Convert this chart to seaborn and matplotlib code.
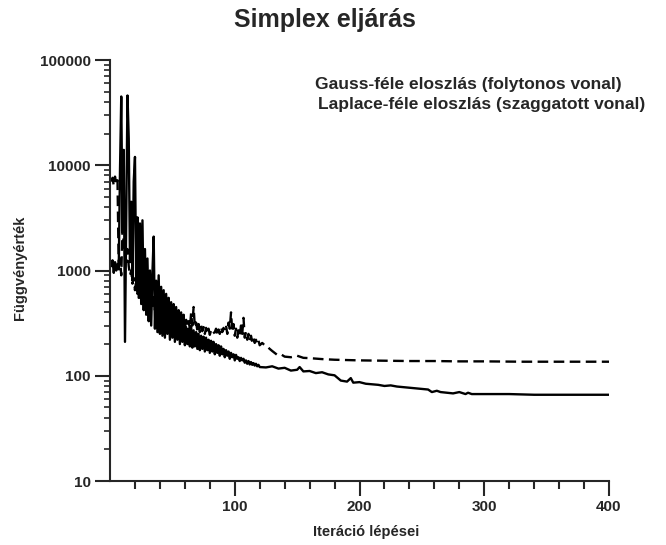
import numpy as np
import pandas as pd
import seaborn as sns
import matplotlib
matplotlib.use("Agg")
import matplotlib.pyplot as plt
from matplotlib import ticker

# ---------------- DATA ----------------
# Gauss-féle eloszlás (solid) -- iterations 1..120 step by step, then a sparser tail
gauss_iter_head = list(range(1, 121))
gauss_val_head = [
    1100, 1250, 950, 1200, 1000, 1150, 1050, 9000, 45000, 2500,
    14000, 210, 3000, 46000, 18000, 1200, 4500, 800, 7000, 12000,
    700, 3200, 550, 2800, 480, 3000, 420, 1600, 380, 1300,
    330, 1000, 300, 950, 2100, 280, 800, 260, 900, 250,
    700, 240, 650, 230, 600, 250, 550, 220, 500, 230,
    480, 210, 450, 220, 420, 200, 400, 210, 380, 195,
    290, 200, 280, 190, 300, 185, 270, 190, 260, 180,
    250, 175, 240, 180, 235, 170, 230, 175, 220, 165,
    215, 170, 210, 160, 200, 165, 195, 155, 190, 160,
    180, 150, 175, 155, 170, 145, 165, 150, 160, 140,
    158, 145, 150, 138, 148, 140, 145, 133, 140, 130,
    138, 128, 135, 127, 132, 125, 130, 123, 127, 121,
]
gauss_iter_tail = [125, 130, 135, 140, 145, 150, 152, 155, 160, 165, 170, 175, 180,
                   185, 190, 193, 195, 200, 205, 210, 215, 220, 225, 230, 235, 240,
                   245, 250, 255, 258, 262, 265, 270, 275, 280, 285, 287, 290, 300,
                   320, 340, 360, 380, 400]
gauss_val_tail = [120, 123, 117, 119, 112, 114, 121, 110, 111, 106, 108, 103, 101,
                  90, 88, 95, 86, 87, 84, 83, 82, 80, 81, 79, 78, 77,
                  76, 75, 74, 70, 72, 70, 69, 68, 70, 67, 69, 67, 67,
                  67, 66, 66, 66, 66]

# Laplace-féle eloszlás (dashed)
laplace_iter_head = list(range(1, 121))
laplace_val_head = [
    7000, 7600, 6400, 7800, 6600, 7200, 1000, 1300, 900, 2500,
    1800, 1500, 1200, 1600, 1100, 900, 1000, 750, 850, 650,
    800, 600, 900, 550, 750, 500, 700, 480, 650, 520,
    620, 450, 580, 430, 560, 420, 520, 400, 560, 380,
    500, 360, 480, 350, 450, 340, 430, 330, 420, 320,
    400, 310, 380, 300, 370, 290, 360, 300, 350, 280,
    340, 290, 330, 280, 395, 300, 450, 290, 320, 270,
    310, 260, 300, 265, 290, 250, 285, 255, 280, 245,
    270, 250, 255, 260, 280, 240, 275, 250, 290, 260,
    285, 270, 300, 250, 320, 280, 400, 260, 310, 240,
    280, 230, 270, 240, 300, 250, 355, 230, 260, 220,
    250, 215, 240, 210, 230, 205, 220, 200, 215, 195,
]
laplace_iter_tail = [122, 124, 126, 128, 130, 132, 134, 137, 140, 145, 150, 155, 160,
                     170, 180, 190, 200, 220, 240, 260, 280, 300, 330, 360, 400]
laplace_val_tail = [205, 195, 190, 180, 172, 165, 158, 160, 152, 150, 155, 148, 147,
                    144, 142, 141, 140, 139, 138, 138, 137, 137, 136, 136, 136]

x_major = [100, 200, 300, 400]
x_minor = [20, 40, 60, 80, 120, 140, 160, 180, 220, 240, 260, 280, 320, 340, 360, 380]
y_major = [10, 100, 1000, 10000, 100000]

gauss = pd.DataFrame({"iter": gauss_iter_head + gauss_iter_tail,
                      "value": gauss_val_head + gauss_val_tail})
laplace = pd.DataFrame({"iter": laplace_iter_head + laplace_iter_tail,
                        "value": laplace_val_head + laplace_val_tail})

# ---------------- PLOT ----------------
sns.set_style("ticks")
plt.rcParams["font.family"] = ["Liberation Sans", "DejaVu Sans"]
plt.rcParams["font.weight"] = "bold"

fig = plt.figure(figsize=(6.66, 5.45), dpi=100)
ax = fig.add_axes([0.1652, 0.1174, 0.7492, 0.7725])

sns.lineplot(data=laplace, x="iter", y="value", ax=ax, color="black", lw=1.7,
             estimator=None, sort=False)
ax.lines[-1].set_dashes((4.5, 2.3))
sns.lineplot(data=gauss, x="iter", y="value", ax=ax, color="black", lw=1.7,
             estimator=None, sort=False)

ax.set_yscale("log")
ax.set_ylim(10, 100000)
ax.set_xlim(0, 400)
ax.yaxis.set_major_locator(ticker.FixedLocator(y_major))
ax.yaxis.set_major_formatter(ticker.FuncFormatter(lambda v, p: f"{int(round(v))}"))
ax.yaxis.set_minor_locator(ticker.LogLocator(base=10, subs=np.arange(2, 10)))
ax.yaxis.set_minor_formatter(ticker.NullFormatter())
ax.xaxis.set_major_locator(ticker.FixedLocator(x_major))
ax.xaxis.set_minor_locator(ticker.FixedLocator(x_minor))

ax.set_xlabel("")
ax.set_ylabel("")
sns.despine(ax=ax)
for s in ["left", "bottom"]:
    ax.spines[s].set_linewidth(1.5)
ax.tick_params(axis="both", which="major", length=11, width=1.5, labelsize=11, pad=3)
ax.tick_params(axis="y", which="minor", length=4, width=1.2)
ax.tick_params(axis="x", which="minor", length=6, width=1.5)
for lab in ax.get_xticklabels() + ax.get_yticklabels():
    lab.set_fontweight("bold")

fig.text(325 / 666, 1 - 20 / 545, "Simplex eljárás", ha="center", va="center",
         fontsize=18, fontweight="bold")
fig.text(315 / 666, 1 - 85 / 545, "Gauss-féle eloszlás (folytonos vonal)",
         ha="left", va="center", fontsize=12.5, fontweight="bold")
fig.text(318 / 666, 1 - 104 / 545, "Laplace-féle eloszlás (szaggatott vonal)",
         ha="left", va="center", fontsize=12.5, fontweight="bold")
fig.text(20 / 666, 1 - 268 / 545, "Függvényérték", rotation=90, ha="center",
         va="center", fontsize=10.5, fontweight="bold")
fig.text(366 / 666, 1 - 532 / 545, "Iteráció lépései", ha="center", va="center",
         fontsize=10.5, fontweight="bold")

fig.savefig("out.png", dpi=100)
